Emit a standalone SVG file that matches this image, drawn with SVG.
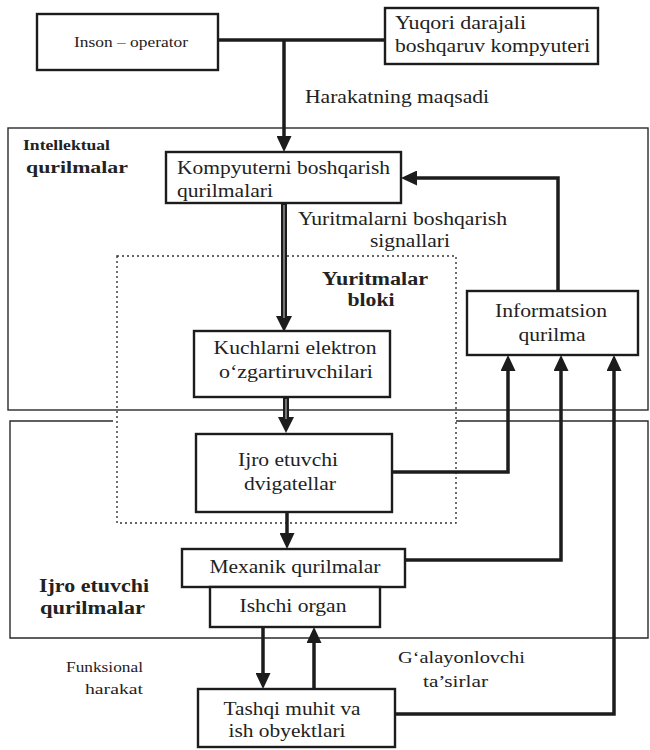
<svg xmlns="http://www.w3.org/2000/svg" width="650" height="750" viewBox="0 0 650 750">
<style>
.box{fill:#fff;stroke:#1c1c1c;stroke-width:2.4}
.cont{fill:none;stroke:#2a2a2a;stroke-width:1.4}
.dot{fill:none;stroke:#333;stroke-width:1.4;stroke-dasharray:2 3}
.ln{fill:none;stroke:#1c1c1c;stroke-width:3.5}
.dbl{fill:none;stroke:#1c1c1c;stroke-width:6}
.dbl-in{fill:none;stroke:#9a9a9a;stroke-width:1.4}
text{font-family:'Liberation Serif','DejaVu Serif',serif;font-size:18px;fill:#222}
.b{font-weight:bold}
.s{font-size:14.5px}
.m{text-anchor:middle}
</style>
<defs>
<marker id="arr" markerUnits="userSpaceOnUse" markerWidth="16" markerHeight="15" refX="12" refY="7.5" orient="auto"><path d="M0,0 L16,7.5 L0,15 z" fill="#1c1c1c"/></marker>
<marker id="arrD" markerUnits="userSpaceOnUse" markerWidth="16" markerHeight="16" refX="6" refY="8" orient="auto"><path d="M0,0 L16,8 L0,16 z" fill="#1c1c1c"/></marker>
</defs>
<rect width="650" height="750" fill="#fff"/>

<g id="intellektual-qurilmalar">
<rect class="cont" x="8" y="128" width="640" height="282"/>
<text class="b s" font-family="Liberation Serif, serif" x="23" y="150" textLength="87" lengthAdjust="spacingAndGlyphs">Intellektual</text>
<text class="b" font-family="Liberation Serif, serif" x="26" y="173" style="font-size:17px" textLength="102" lengthAdjust="spacingAndGlyphs">qurilmalar</text>
</g>

<g id="ijro-etuvchi-qurilmalar">
<path class="cont" d="M113,421 H10 V638 H648 V421 H456"/>
<text class="b" x="39" y="592" textLength="110" lengthAdjust="spacingAndGlyphs">Ijro etuvchi</text>
<text class="b" x="40" y="614" textLength="105" lengthAdjust="spacingAndGlyphs">qurilmalar</text>
</g>

<g id="yuritmalar-bloki">
<rect class="dot" x="117" y="256" width="339" height="267"/>
<text class="b m" x="375" y="285" textLength="106" lengthAdjust="spacingAndGlyphs">Yuritmalar</text>
<text class="b m" x="371" y="306" textLength="47" lengthAdjust="spacingAndGlyphs">bloki</text>
</g>

<g id="connectors">
<path class="ln" d="M218,40 H385"/>
<path class="ln" d="M284,40 V148" marker-end="url(#arr)"/>
<path class="ln" d="M558,291 V178 H405" marker-end="url(#arr)"/>
<path class="dbl" d="M284,203 V322" marker-end="url(#arrD)"/>
<path class="dbl-in" d="M284,205 V318"/>
<path class="dbl" d="M286,397 V423" marker-end="url(#arrD)"/>
<path class="dbl-in" d="M286,399 V419"/>
<path class="ln" d="M392,472 H508 V359" marker-end="url(#arr)"/>
<path class="ln" d="M287,512 V545" marker-end="url(#arr)"/>
<path class="ln" d="M405,560 H561 V359" marker-end="url(#arr)"/>
<path class="ln" d="M395,714 H614 V359" marker-end="url(#arr)"/>
<path class="ln" d="M263,627 V685" marker-end="url(#arr)"/>
<path class="ln" d="M314,689 V631" marker-end="url(#arr)"/>
<text x="305" y="103" textLength="184" lengthAdjust="spacingAndGlyphs">Harakatning maqsadi</text>
<text x="298" y="225" textLength="209" lengthAdjust="spacingAndGlyphs">Yuritmalarni boshqarish</text>
<text x="370" y="247" textLength="80" lengthAdjust="spacingAndGlyphs">signallari</text>
<text class="s" x="66" y="672" textLength="77" lengthAdjust="spacingAndGlyphs">Funksional</text>
<text class="s" x="85" y="694" textLength="58" lengthAdjust="spacingAndGlyphs">harakat</text>
<text x="398" y="663" style="font-size:17px" textLength="127" lengthAdjust="spacingAndGlyphs">G‘alayonlovchi</text>
<text x="423" y="687" style="font-size:17px" textLength="65" lengthAdjust="spacingAndGlyphs">ta’sirlar</text>
</g>

<g id="inson-operator">
<rect class="box" x="37" y="14" width="181" height="56"/>
<text class="s m" x="131" y="47" textLength="114" lengthAdjust="spacingAndGlyphs">Inson – operator</text>
</g>

<g id="yuqori-kompyuter">
<rect class="box" x="385" y="8" width="213" height="56"/>
<text x="395" y="29" textLength="131" lengthAdjust="spacingAndGlyphs">Yuqori darajali</text>
<text x="395" y="52" textLength="195" lengthAdjust="spacingAndGlyphs">boshqaruv kompyuteri</text>
</g>

<g id="kompyuterni-boshqarish">
<rect class="box" x="166" y="152" width="235" height="51"/>
<text x="177" y="174" textLength="213" lengthAdjust="spacingAndGlyphs">Kompyuterni boshqarish</text>
<text x="177" y="197" textLength="96" lengthAdjust="spacingAndGlyphs">qurilmalari</text>
</g>

<g id="kuchlarni-elektron">
<rect class="box" x="194" y="331" width="196" height="66"/>
<text class="m" x="295" y="354" textLength="163" lengthAdjust="spacingAndGlyphs">Kuchlarni elektron</text>
<text class="m" x="296" y="378" textLength="154" lengthAdjust="spacingAndGlyphs">o‘zgartiruvchilari</text>
</g>

<g id="informatsion-qurilma">
<rect class="box" x="467" y="291" width="171" height="64"/>
<text class="m" x="551" y="317" textLength="112" lengthAdjust="spacingAndGlyphs">Informatsion</text>
<text class="m" x="552" y="341" textLength="67" lengthAdjust="spacingAndGlyphs">qurilma</text>
</g>

<g id="ijro-dvigatellar">
<rect class="box" x="196" y="434" width="196" height="78"/>
<text class="m" x="288" y="466" textLength="100" lengthAdjust="spacingAndGlyphs">Ijro etuvchi</text>
<text class="m" x="290" y="490" textLength="92" lengthAdjust="spacingAndGlyphs">dvigatellar</text>
</g>

<g id="mexanik-qurilmalar">
<rect class="box" x="182" y="549" width="223" height="38"/>
<text class="m" x="295" y="573" textLength="171" lengthAdjust="spacingAndGlyphs">Mexanik qurilmalar</text>
</g>

<g id="ishchi-organ">
<rect class="box" x="210" y="587" width="170" height="40"/>
<text class="m" x="293" y="612" textLength="107" lengthAdjust="spacingAndGlyphs">Ishchi organ</text>
</g>

<g id="tashqi-muhit">
<rect class="box" x="198" y="689" width="197" height="58"/>
<text class="m" x="292" y="715" textLength="137" lengthAdjust="spacingAndGlyphs">Tashqi muhit va</text>
<text class="m" x="287" y="737" textLength="117" lengthAdjust="spacingAndGlyphs">ish obyektlari</text>
</g>
</svg>
